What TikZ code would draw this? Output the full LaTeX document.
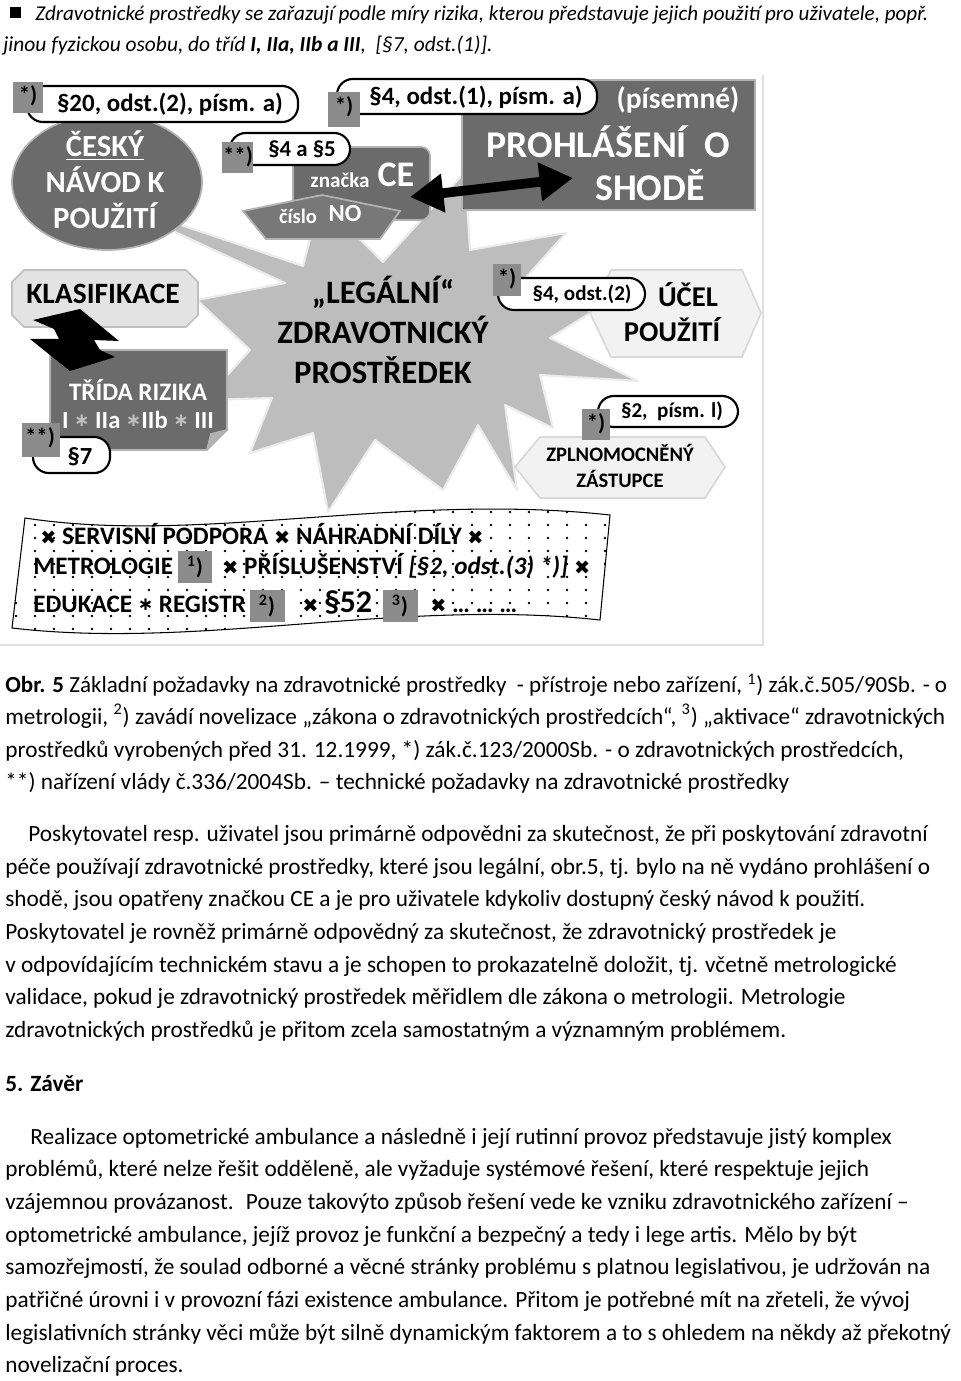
\documentclass[tikz,border=0pt]{standalone}
\usepackage{fontspec}
\setmainfont{Carlito}
\newfontfamily\symfont{DejaVu Sans}
\usetikzlibrary{arrows.meta}

\definecolor{notegray}{gray}{0.55}
\definecolor{boxdark}{gray}{0.42}
\definecolor{boxmid}{gray}{0.47}
\definecolor{boxlight}{gray}{0.89}
\definecolor{boxpale}{gray}{0.95}
\definecolor{starfill}{gray}{0.74}

\newcommand\fsz[2]{\fontsize{#1}{#2}\selectfont}
\newcommand\xmark{{\symfont\fsz{11}{11}✖}}
\newcommand\aster{\raisebox{1pt}{\symfont\fsz{10.5}{10.5}∗}}

\tikzset{
  pill/.style={draw=black,line width=1.2pt,fill=white,rounded corners=9pt},
  notebox/.style={fill=notegray},
  notetxt/.style={inner sep=0,font=\bfseries\fsz{13}{13}},
  darkbox/.style={fill=boxdark,draw=black!30,line width=1pt},
  midbox/.style={fill=boxmid,draw=black!30,line width=1pt},
  lightbox/.style={fill=boxlight,draw=black!25,line width=1pt},
  palebox/.style={fill=boxpale,draw=black!15,line width=1pt},
  starshape/.style={fill=starfill,draw=black!8,line width=1.2pt,line join=round},
  wtxt/.style={text=white,align=center,inner sep=0},
  btxt/.style={text=black,align=center,inner sep=0},
  txtline/.style={anchor=base west,inner sep=0,font=\fsz{13.25}{15}},
  bantxt/.style={anchor=base west,inner sep=0,font=\bfseries\fsz{14.3}{15}},
  bigarrow/.style={line width=5.5pt,{Triangle[length=19pt,width=21pt]}-{Triangle[length=19pt,width=21pt]}},
}

\begin{document}
\begin{tikzpicture}[x=0.02cm,y=-0.02cm]
\useasboundingbox[fill=white] (0,0) rectangle (960,1381);

% header
\fill (10,7) rectangle (21,18);
\node[txtline,font=\itshape\fsz{12}{14}] (head1) at (35,21) {Zdravotnické prostředky se zařazují podle míry rizika, kterou představuje jejich použití pro uživatele, popř.};
\node[txtline,font=\itshape\fsz{12.2}{14}] (head2) at (3,52) {jinou fyzickou osobu, do tříd \textbf{I, IIa, IIb a III},~~[§7, odst.(1)].};

% frame of the figure
\draw[black!12,line width=0.8pt] (763,75) -- (763,645) -- (0,645);

% star
\draw[starshape] (172,222) -- (303,266) -- (320,200) -- (383,262) -- (465,172) -- (470,250)
  -- (566,233) -- (520,284) -- (592,312) -- (550,338) -- (638,381) -- (540,375)
  -- (553,428) -- (505,405) -- (517,490) -- (478,425) -- (443,490) -- (375,440)
  -- (328,512) -- (313,433) -- (250,453) -- (272,398) -- (205,400) -- (250,350)
  -- (197,300) -- (285,283) -- (175,232) -- cycle;
\node[btxt,font=\bfseries\fsz{18.6}{22.7}] (legal) at (383,330) {„LEGÁLNÍ“\\ZDRAVOTNICKÝ\\PROSTŘEDEK};

% banner
\begin{scope}
  \clip (25,518) .. controls (200,545) and (400,492) .. (610,515)
    -- (600,620) .. controls (400,598) and (200,650) .. (12,628) -- cycle;
  \fill[white] (0,500) rectangle (620,650);
  \foreach \y in {512,525,...,640}
    \foreach \x in {16,35,...,620}
      \fill (\x,\y) circle (0.75pt);
\end{scope}
\draw[line width=0.6pt] (25,518) .. controls (200,545) and (400,492) .. (610,515)
  -- (600,620) .. controls (400,598) and (200,650) .. (12,628) -- cycle;
\node[bantxt] (serv) at (40,544) {\xmark\ SERVISNÍ PODPORA \xmark\ NÁHRADNÍ DÍLY \xmark};
\node[bantxt] (metro) at (33,574) {METROLOGIE};
\fill[notebox] (178,551) rectangle (212,583);
\node[notetxt] (n5) at (195,567) {\textsuperscript{1})};
\node[bantxt] (prisl) at (222,574) {\xmark\ PŘÍSLUŠENSTVÍ \textit{[§2, odst.(3) *)]} \xmark};
\node[bantxt] (eduk) at (33,612) {EDUKACE \aster\ REGISTR};
\fill[notebox] (250,590) rectangle (285,622);
\node[notetxt] (n6) at (267,606) {\textsuperscript{2})};
\node[bantxt] (par52) at (302,612) {\xmark\ {\fsz{18}{18}§52}};
\fill[notebox] (383,590) rectangle (418,622);
\node[notetxt] (n7) at (400,606) {\textsuperscript{3})};
\node[bantxt] (dots) at (430,612) {\xmark\ … … …};

% cesky navod
\draw[darkbox] (107,182) ellipse [x radius=1.9cm, y radius=1.36cm];
\node[wtxt,font=\bfseries\fsz{17.5}{20.4}] (navod) at (105,180) {\underline{ČESKÝ}\\NÁVOD K\\POUŽITÍ};
\draw[pill] (27,86) rectangle (298,122);
\node[btxt,font=\bfseries\fsz{14.2}{15}] (zak20) at (170,104) {§20, odst.(2), písm. a)};
\fill[notebox] (13,82) rectangle (43,113);
\node[notetxt] (n1) at (28,96) {*)};

% prohlaseni o shode
\draw[darkbox] (462,80) rectangle (755,210);
\node[wtxt,font=\bfseries\fsz{16.8}{17}] (pisemne) at (678,100) {(písemné)};
\node[wtxt,font=\bfseries\fsz{21.5}{22}] (prohl) at (608,142) {PROHLÁŠENÍ~~O};
\node[wtxt,font=\bfseries\fsz{21.5}{22}] (shode) at (650,185) {SHODĚ};
\draw[pill] (337,79) rectangle (597,114);
\node[btxt,font=\bfseries\fsz{14.2}{15}] (zak4a) at (476,97) {§4, odst.(1), písm. a)};
\fill[notebox] (328,92) rectangle (360,127);
\node[notetxt] (n2) at (344,107) {*)};

% znacka CE, cislo NO
\draw[darkbox,rounded corners=5pt] (293,147) rectangle (430,220);
\node[wtxt,font=\bfseries\fsz{12}{12}] (znacka) at (340,180) {značka};
\node[wtxt,font=\bfseries\fsz{20.5}{21}] (ce) at (396,175) {CE};
\draw[midbox] (243,211) -- (322,195) -- (400,211) -- (380,239) -- (266,239) -- cycle;
\node[wtxt,font=\bfseries\fsz{11.7}{12}] (cislo) at (298,216) {číslo};
\node[wtxt,font=\bfseries\fsz{14}{14}] (no) at (345,214) {NO};
\draw[pill] (230,133) rectangle (350,165);
\node[btxt,font=\bfseries\fsz{13}{13}] (zak45) at (302,149) {§4 a §5};
\fill[notebox] (222,142) rectangle (253,173);
\node[notetxt] (n3) at (238,157) {**)};

\coordinate (ceTip) at (410,197);
\coordinate (shodaTip) at (573,178);
\draw[bigarrow] (ceTip) -- (shodaTip);

% klasifikace, trida rizika
\draw[lightbox] (24,270) -- (186,270) -- (198,282) -- (198,315) -- (186,327)
  -- (24,327) -- (12,315) -- (12,282) -- cycle;
\node[btxt,font=\bfseries\fsz{16.8}{17}] (klas) at (103,294) {KLASIFIKACE};
\draw[darkbox] (50,350) -- (227,350) -- (227,430) -- (207,450) -- (50,450) -- cycle;
\draw[darkbox,fill=black!30] (207,450) -- (211,434) -- (227,430);
\node[wtxt,font=\bfseries\fsz{14.3}{15}] (trida) at (138,390) {TŘÍDA RIZIKA};
\node[wtxt,font=\bfseries\fsz{14}{15}] (tridy) at (138,420) {I {\color{black!25}\aster} IIa {\color{black!25}\aster}IIb {\color{black!25}\aster} III};
\fill (33,320) -- (80,309) -- (119,341) -- (94,340) -- (100,350) -- (115,357)
  -- (70,371) -- (30,339) -- (59,339) -- (54,329) -- cycle;
\draw[pill] (33,437) rectangle (110,473);
\node[btxt,font=\bfseries\fsz{14}{14}] (par7) at (80,457) {§7};
\fill[notebox] (22,423) rectangle (60,457);
\node[notetxt] (n4) at (40,438) {**)};

% ucel pouziti
\draw[palebox] (590,313) -- (611,270) -- (742,270) -- (761,313) -- (742,357) -- (611,357) -- cycle;
\node[btxt,font=\bfseries\fsz{16.3}{17}] (ucel) at (688,295) {ÚČEL};
\node[btxt,font=\bfseries\fsz{16.3}{17}] (pouziti) at (672,330) {POUŽITÍ};
\draw[pill] (498,278) rectangle (645,310);
\node[btxt,font=\bfseries\fsz{12}{12}] (zak42) at (582,294) {§4, odst.(2)};
\fill[notebox] (493,264) rectangle (521,296);
\node[notetxt] (n8) at (507,279) {*)};

% zplnomocneny zastupce
\draw[palebox] (515,467) -- (540,437) -- (705,437) -- (725,467) -- (705,498) -- (540,498) -- cycle;
\node[btxt,font=\bfseries\fsz{11.7}{12}] (zplnom) at (620,453) {ZPLNOMOCNĚNÝ};
\node[btxt,font=\bfseries\fsz{11.7}{12}] (zastupce) at (620,479) {ZÁSTUPCE};
\draw[pill] (598,396) rectangle (738,427);
\node[btxt,font=\bfseries\fsz{12}{12}] (zak2) at (672,411) {§2,~~písm. l)};
\fill[notebox] (582,409) rectangle (610,440);
\node[notetxt] (n9) at (596,424) {*)};

% caption
\node[txtline,font=\fsz{13.1}{15}] (cap1) at (5,692) {\textbf{Obr. 5} Základní požadavky na zdravotnické prostředky~ - přístroje nebo zařízení, \textsuperscript{1}) zák.č.505/90Sb. - o};
\node[txtline] (cap2) at (5,724) {metrologii, \textsuperscript{2}) zavádí novelizace „zákona o zdravotnických prostředcích“, \textsuperscript{3}) „aktivace“ zdravotnických};
\node[txtline] (cap3) at (5,757) {prostředků vyrobených před 31. 12.1999, *) zák.č.123/2000Sb. - o zdravotnických prostředcích,};
\node[txtline] (cap4) at (5,789) {**) nařízení vlády č.336/2004Sb. – technické požadavky na zdravotnické prostředky};

% text
\node[txtline] (p1) at (28,841) {Poskytovatel resp. uživatel jsou primárně odpovědni za skutečnost, že při poskytování zdravotní};
\node[txtline] (p2) at (5,874) {péče používají zdravotnické prostředky, které jsou legální, obr.5, tj. bylo na ně vydáno prohlášení o};
\node[txtline] (p3) at (5,906) {shodě, jsou opatřeny značkou CE a je pro uživatele kdykoliv dostupný český návod k použití.};
\node[txtline] (p4) at (5,939) {Poskytovatel je rovněž primárně odpovědný za skutečnost, že zdravotnický prostředek je};
\node[txtline] (p5) at (5,972) {v odpovídajícím technickém stavu a je schopen to prokazatelně doložit, tj. včetně metrologické};
\node[txtline] (p6) at (5,1004) {validace, pokud je zdravotnický prostředek měřidlem dle zákona o metrologii. Metrologie};
\node[txtline] (p7) at (5,1037) {zdravotnických prostředků je přitom zcela samostatným a významným problémem.};
\node[txtline,font=\bfseries\fsz{13.25}{15}] (zaver) at (5,1091) {5. Závěr};
\node[txtline] (q1) at (30,1144) {Realizace optometrické ambulance a následně i její rutinní provoz představuje jistý komplex};
\node[txtline] (q2) at (5,1176) {problémů, které nelze řešit odděleně, ale vyžaduje systémové řešení, které respektuje jejich};
\node[txtline] (q3) at (5,1209) {vzájemnou provázanost.~ Pouze takovýto způsob řešení vede ke vzniku zdravotnického zařízení –};
\node[txtline] (q4) at (5,1242) {optometrické ambulance, jejíž provoz je funkční a bezpečný a tedy i lege artis. Mělo by být};
\node[txtline] (q5) at (5,1274) {samozřejmostí, že soulad odborné a věcné stránky problému s platnou legislativou, je udržován na};
\node[txtline] (q6) at (5,1307) {patřičné úrovni i v provozní fázi existence ambulance. Přitom je potřebné mít na zřeteli, že vývoj};
\node[txtline] (q7) at (5,1340) {legislativních stránky věci může být silně dynamickým faktorem a to s ohledem na někdy až překotný};
\node[txtline] (q8) at (5,1372) {novelizační proces.};
\end{tikzpicture}
\end{document}
